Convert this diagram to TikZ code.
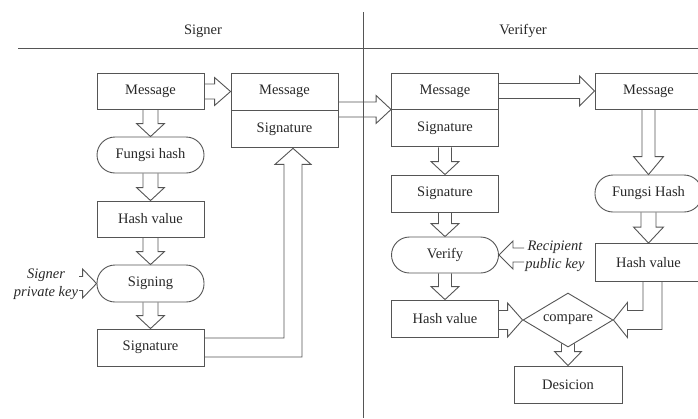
\documentclass[tikz,border=0pt]{standalone}
\usepackage{fontspec}
\setmainfont{Liberation Serif}
\usepackage{tikz}
\usetikzlibrary{shapes.geometric, calc, positioning}
\definecolor{linegray}{RGB}{85, 85, 85}
\definecolor{textgray}{RGB}{40, 40, 40}

\tikzset{
  box/.style={draw=linegray, line width=0.9pt, minimum width=107pt, minimum height=36pt,
    inner sep=0pt, font=\fontsize{14.5}{16}\selectfont, text=textgray},
  pill/.style={box, rounded corners=18pt},
  keytext/.style={font=\fontsize{14.5}{18}\selectfont\itshape, text=textgray, align=center, inner sep=1pt},
  head/.style={font=\fontsize{14.5}{16}\selectfont, text=textgray},
  arrowline/.style={draw=linegray, line width=0.9pt, line join=miter},
  % hollow block arrows: {shaft half width}{head half width}{head length}
  fatdown/.style n args={3}{to path={let \p1=(\tikztostart), \p2=(\tikztotarget) in
    (\x1-#1pt,\y1) -- (\x1-#1pt,\y2+#3pt) -- (\x1-#2pt,\y2+#3pt) -- (\x1,\y2)
    -- (\x1+#2pt,\y2+#3pt) -- (\x1+#1pt,\y2+#3pt) -- (\x1+#1pt,\y1)}},
  fatright/.style n args={3}{to path={let \p1=(\tikztostart), \p2=(\tikztotarget) in
    (\x1,\y2+#1pt) -- (\x2-#3pt,\y2+#1pt) -- (\x2-#3pt,\y2+#2pt) -- (\x2,\y2)
    -- (\x2-#3pt,\y2-#2pt) -- (\x2-#3pt,\y2-#1pt) -- (\x1,\y2-#1pt)}},
  fatleft/.style n args={3}{to path={let \p1=(\tikztostart), \p2=(\tikztotarget) in
    (\x1,\y2+#1pt) -- (\x2+#3pt,\y2+#1pt) -- (\x2+#3pt,\y2+#2pt) -- (\x2,\y2)
    -- (\x2+#3pt,\y2-#2pt) -- (\x2+#3pt,\y2-#1pt) -- (\x1,\y2-#1pt)}},
}

\begin{document}
\begin{tikzpicture}[x=1pt, y=-1pt]
  \useasboundingbox[fill=white] (0,0) rectangle (698,418);
  \clip (0,0) rectangle (698,418);

  % --- Header ---
  \draw[linegray, line width=0.9pt] (18,48) -- (698,48);
  \draw[linegray, line width=0.9pt] (363,12) -- (363,418);
  \node[head] (signer) at (203,31) {Signer};
  \node[head] (verifyer) at (523,31) {Verifyer};

  % --- Signer side ---
  \node[box] (msg1) at (150.5,91) {Message};
  \node[pill] (hash1) at (150.5,155) {Fungsi hash};
  \node[box] (hv1) at (150.5,219) {Hash value};
  \node[pill, minimum height=37pt] (sign) at (150.5,283.5) {Signing};
  \node[box, minimum height=37pt] (sig1) at (150.5,347.5) {Signature};
  \node[keytext] (pk) at (46,284) {Signer\\private key};

  \node[box, minimum height=37pt] (ms2) at (284.5,91.5) {Message};
  \node[box, minimum height=37pt, below=0pt of ms2] (sg2) {Signature};

  \draw[arrowline] (msg1.east) to[fatright={7.5}{14}{16}] (ms2.west);
  \draw[arrowline] (msg1.south) to[fatdown={7.5}{14}{13}] (hash1.north);
  \draw[arrowline] (hash1.south) to[fatdown={7.5}{14}{13}] (hv1.north);
  \draw[arrowline] (hv1.south) to[fatdown={7.5}{14}{13}] (sign.north);
  \draw[arrowline] (sign.south) to[fatdown={7.5}{14}{13}] (sig1.north);
  \draw[arrowline] (pk.east) to[fatright={7}{14.5}{14}] (sign.west);
  \draw[arrowline] let \p1=(sig1.east), \p2=(sg2.south), \p3=($(sg2.south)+(8.5,0)$) in
    (\x1,\y1+9.5pt) -| (\x3-9pt,\y2-16pt) -- (\x3-18pt,\y2-16pt) -- (\x3,\y2)
    -- (\x3+18pt,\y2-16pt) -- (\x3+9pt,\y2-16pt) |- (\x1,\y1-9.5pt);

  % --- Verifyer side ---
  \node[box] (ms3) at (445,91) {Message};
  \node[box, minimum height=37pt, below=0pt of ms3] (sg3) {Signature};
  \node[box, minimum height=37pt] (sig3) at (445,193.5) {Signature};
  \node[pill] (ver) at (445,255) {Verify};
  \node[box, minimum height=37pt] (hv3) at (445,318.5) {Hash value};
  \node[keytext] (rk) at (555,256) {Recipient\\public key};

  \node[box] (ms4) at (648.5,91) {Message};
  \node[pill, minimum height=37pt] (fh4) at (648.5,193.5) {Fungsi Hash};
  \node[box, minimum height=38pt] (hv4) at (648.5,262.5) {Hash value};

  \node[box, diamond, aspect=1.67, minimum width=90pt, minimum height=54pt] (cmp) at (568,320) {compare};
  \node[box, minimum width=108pt, minimum height=37pt] (dec) at (568,384.5) {Desicion};

  \draw[arrowline] (ms2.south east) to[fatright={7.5}{14}{15}] (ms3.south west);
  \draw[arrowline] (ms3.east) to[fatright={7.5}{15}{15}] (ms4.west);
  \draw[arrowline] (sg3.south) to[fatdown={6.5}{14}{13}] (sig3.north);
  \draw[arrowline] (sig3.south) to[fatdown={6.5}{14}{13}] (ver.north);
  \draw[arrowline] (ver.south) to[fatdown={6.5}{14}{13}] (hv3.north);
  \draw[arrowline] (rk.west) to[fatleft={7}{14}{14}] (ver.east);
  \draw[arrowline] (ms4.south) to[fatdown={6.5}{15}{18}] (fh4.north);
  \draw[arrowline] (fh4.south) to[fatdown={7.5}{15}{16}] (hv4.north);
  \draw[arrowline] (hv3.east) to[fatright={9.5}{17}{15}] (cmp.west);
  \draw[arrowline] let \p1=(hv4.south), \p2=(cmp.east) in
    (\x1-5.5pt,\y1) |- (\x2+14pt,\y2+9.5pt) -- (\x2+14pt,\y2+17.5pt) -- (\x2,\y2)
    -- (\x2+14pt,\y2-17.5pt) -- (\x2+14pt,\y2-9.5pt) -| (\x1+13.5pt,\y1);
  \draw[arrowline] ($(cmp.south)+(0,-4)$) to[fatdown={6.5}{13.5}{14}] (dec.north);
\end{tikzpicture}
\end{document}
